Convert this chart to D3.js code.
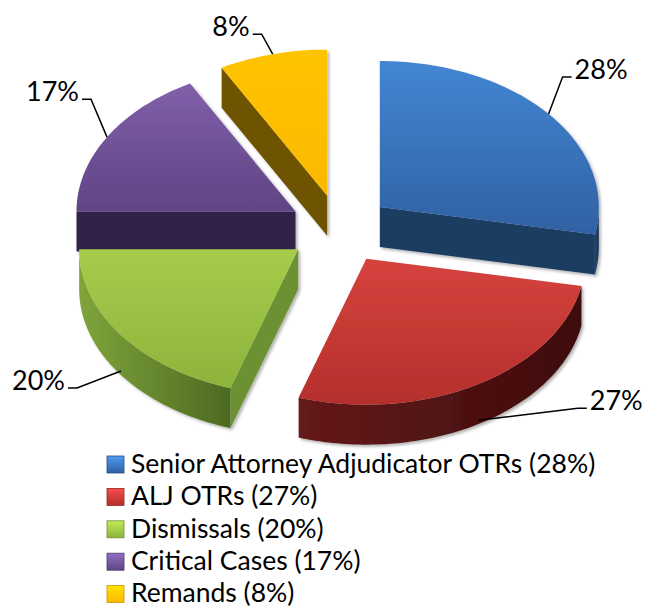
<!DOCTYPE html>
<html>
<head>
<meta charset="utf-8">
<script src="https://cdn.jsdelivr.net/npm/d3@7"></script>
<style>
  body { margin: 0; background: #fff; }
  svg { display: block; }
</style>
</head>
<body>
<div id="chart"></div>
<script>
// Chart data
const categories = ['Senior Attorney Adjudicator OTRs', 'ALJ OTRs', 'Dismissals', 'Critical Cases', 'Remands'];
const values = [28, 27, 20, 17, 8];
const valueLabels = ['28%', '27%', '20%', '17%', '8%'];

// Colours: top face gradient (light, dark), radial face, outer side gradient (light, dark)
const topColors = [['#4386d2', '#2f61a3'], ['#d6433e', '#b52f2c'], ['#a6cc4b', '#8db33c'], ['#8060aa', '#5f4484'], ['#ffc400', '#fbb900']];
const faceColors = ['#1d3c62', '#4e1212', '#6c9131', '#33244a', '#6e5200'];
const sideColors = [['#24466f', '#1a3353'], ['#651a1a', '#3e0b0b'], ['#7fa43a', '#4c6a22'], ['#3d2b58', '#2c1f40'], ['#7a5c00', '#5c4400']];

// Label leader elbows, relative to where the leader touches the slice
const leaderOffsets = [[14, -37], [100, -12], [-44, 17], [-16, -38], [-11, -20]];

const width = 645, height = 610;
const cx = 340, cy = 229, rx = 219, ry = 146, depth = 40, explode = 0.236;

const svg = d3.select('#chart').append('svg')
  .attr('width', width)
  .attr('height', height);

const defs = svg.append('defs');

const shadow = defs.append('filter').attr('id', 'shadow')
  .attr('x', '-10%').attr('y', '-10%').attr('width', '130%').attr('height', '130%');
shadow.append('feDropShadow')
  .attr('dx', 2).attr('dy', 2).attr('stdDeviation', 1.8)
  .attr('flood-color', '#000').attr('flood-opacity', 0.3);

topColors.forEach((c, i) => {
  const g = defs.append('linearGradient').attr('id', 'top' + i)
    .attr('x1', 0).attr('y1', 0).attr('x2', 0).attr('y2', 1);
  g.append('stop').attr('offset', '0%').attr('stop-color', c[0]);
  g.append('stop').attr('offset', '100%').attr('stop-color', c[1]);
});
sideColors.forEach((c, i) => {
  const g = defs.append('linearGradient').attr('id', 'side' + i)
    .attr('x1', 0).attr('y1', 0).attr('x2', 1).attr('y2', 0);
  g.append('stop').attr('offset', '0%').attr('stop-color', c[0]);
  g.append('stop').attr('offset', '100%').attr('stop-color', c[1]);
});
// legend markers
topColors.forEach((c, i) => {
  const g = defs.append('linearGradient').attr('id', 'leg' + i)
    .attr('x1', 0).attr('y1', 0).attr('x2', 0).attr('y2', 1);
  g.append('stop').attr('offset', '0%').attr('stop-color', d3.color(c[0]).brighter(0.4));
  g.append('stop').attr('offset', '100%').attr('stop-color', c[1]);
});

// Unit-circle scales for the tilted pie
const x = d3.scaleLinear().domain([-1, 1]).range([cx - rx, cx + rx]);
const y = d3.scaleLinear().domain([-1, 1]).range([cy - ry, cy + ry]);

const pie = d3.pie().sort(null).startAngle(0).endAngle(2 * Math.PI);
const slices = pie(values).map((d, i) => {
  const mid = (d.startAngle + d.endAngle) / 2;
  return { ...d, i, mid, ox: explode * Math.sin(mid), oy: -explode * Math.cos(mid) };
});

function pt(s, a, r, z) {
  return [x(s.ox + r * Math.sin(a)), y(s.oy - r * Math.cos(a)) + z];
}

function arcPts(s, a0, a1, z) {
  const n = Math.max(2, Math.ceil((a1 - a0) / 0.02));
  return d3.range(n + 1).map(k => pt(s, a0 + (a1 - a0) * k / n, 1, z));
}

const line = d3.line().curve(d3.curveLinear);
const closed = pts => line(pts) + 'Z';

const pieGroup = svg.append('g').attr('class', 'pie');

// paint back slices first
const order = slices.slice().sort((a, b) => Math.cos(b.mid) - Math.cos(a.mid));

order.forEach(s => {
  const g = pieGroup.append('g').attr('filter', 'url(#shadow)');
  const a0 = s.startAngle, a1 = s.endAngle;

  // radial face at start edge
  if (Math.sin(a0) < -1e-6) {
    g.append('path')
      .attr('d', closed([pt(s, 0, 0, 0), pt(s, a0, 1, 0), pt(s, a0, 1, depth), pt(s, 0, 0, depth)]))
      .attr('fill', faceColors[s.i]);
  }
  // radial face at end edge
  if (Math.sin(a1) > 1e-6) {
    g.append('path')
      .attr('d', closed([pt(s, 0, 0, 0), pt(s, a1, 1, 0), pt(s, a1, 1, depth), pt(s, 0, 0, depth)]))
      .attr('fill', faceColors[s.i]);
  }
  // outer curved side, front half only
  const sa = Math.max(a0, Math.PI / 2), ea = Math.min(a1, 3 * Math.PI / 2);
  if (sa < ea) {
    const pts = arcPts(s, sa, ea, 0).concat(arcPts(s, sa, ea, depth).reverse());
    g.append('path')
      .attr('d', closed(pts))
      .attr('fill', `url(#side${s.i})`);
  }
  // top face
  g.append('path')
    .attr('d', closed([pt(s, 0, 0, 0)].concat(arcPts(s, a0, a1, 0))))
    .attr('fill', `url(#top${s.i})`);
});

// Data labels with leader lines
const labelFont = 'Lato, "Open Sans", sans-serif';
const labelGroup = svg.append('g').attr('class', 'labels');
slices.forEach(s => {
  const front = Math.cos(s.mid) < 0;
  const anchor = pt(s, s.mid, 1, front ? depth * 0.9 : 0);
  const off = leaderOffsets[s.i];
  const elbow = [anchor[0] + off[0], anchor[1] + off[1]];
  const dir = off[0] >= 0 ? 1 : -1;
  const end = [elbow[0] + dir * 9, elbow[1]];
  labelGroup.append('path')
    .attr('d', line([anchor, elbow, end]))
    .attr('fill', 'none')
    .attr('stroke', '#000')
    .attr('stroke-width', 1.5);
  labelGroup.append('text')
    .attr('x', end[0] + dir * 3)
    .attr('y', elbow[1] + 2)
    .attr('text-anchor', dir > 0 ? 'start' : 'end')
    .attr('font-family', labelFont)
    .attr('font-size', '27px')
    .attr('fill', '#000')
    .text(valueLabels[s.i]);
});

// Legend
const legend = svg.append('g').attr('class', 'legend')
  .attr('transform', 'translate(107,464)');
const rowH = 32.4;
categories.forEach((c, i) => {
  const row = legend.append('g').attr('transform', `translate(0,${i * rowH})`);
  row.append('rect')
    .attr('x', 0).attr('y', -8)
    .attr('width', 17).attr('height', 17)
    .attr('fill', `url(#leg${i})`)
    .attr('stroke', d3.color(topColors[i][1]).darker(0.6))
    .attr('stroke-width', 0.8);
  row.append('text')
    .attr('x', 24)
    .attr('y', 0)
    .attr('dy', '0.33em')
    .attr('font-family', labelFont)
    .attr('font-size', '26.5px')
    .attr('fill', '#000')
    .text(`${c} (${valueLabels[i]})`);
});
</script>
</body>
</html>
